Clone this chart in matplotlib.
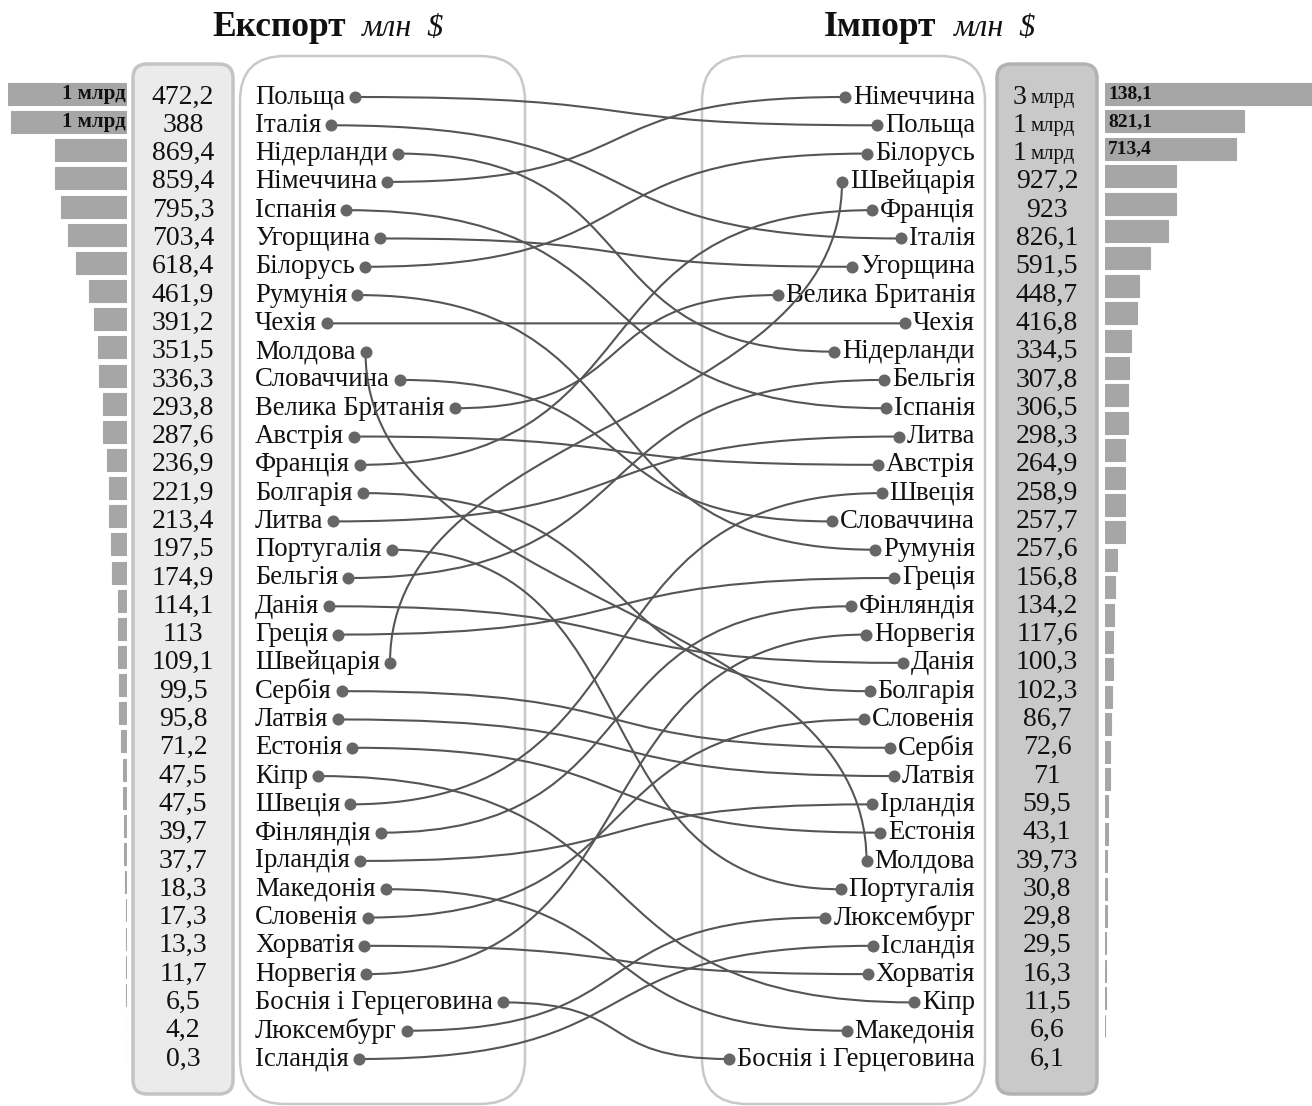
import matplotlib.pyplot as plt
from matplotlib.patches import FancyBboxPatch, PathPatch
from matplotlib.path import Path

plt.rcParams['font.family'] = ['Liberation Serif', 'DejaVu Serif']

# Експорт, млн $ (порядок як у таблиці)
export_names = ["Польща", "Італія", "Нідерланди", "Німеччина", "Іспанія", "Угорщина",
                "Білорусь", "Румунія", "Чехія", "Молдова", "Словаччина", "Велика Британія",
                "Австрія", "Франція", "Болгарія", "Литва", "Португалія", "Бельгія", "Данія",
                "Греція", "Швейцарія", "Сербія", "Латвія", "Естонія", "Кіпр", "Швеція",
                "Фінляндія", "Ірландія", "Македонія", "Словенія", "Хорватія", "Норвегія",
                "Боснія і Герцеговина", "Люксембург", "Ісландія"]
export_vals = [1472.2, 1388, 869.4, 859.4, 795.3, 703.4, 618.4, 461.9, 391.2, 351.5,
               336.3, 293.8, 287.6, 236.9, 221.9, 213.4, 197.5, 174.9, 114.1, 113,
               109.1, 99.5, 95.8, 71.2, 47.5, 47.5, 39.7, 37.7, 18.3, 17.3,
               13.3, 11.7, 6.5, 4.2, 0.3]

# Імпорт, млн $
import_names = ["Німеччина", "Польща", "Білорусь", "Швейцарія", "Франція", "Італія",
                "Угорщина", "Велика Британія", "Чехія", "Нідерланди", "Бельгія", "Іспанія",
                "Литва", "Австрія", "Швеція", "Словаччина", "Румунія", "Греція", "Фінляндія",
                "Норвегія", "Данія", "Болгарія", "Словенія", "Сербія", "Латвія", "Ірландія",
                "Естонія", "Молдова", "Португалія", "Люксембург", "Ісландія", "Хорватія",
                "Кіпр", "Македонія", "Боснія і Герцеговина"]
import_vals = [3138.1, 1821.1, 1713.4, 927.2, 923, 826.1, 591.5, 448.7, 416.8, 334.5,
               307.8, 306.5, 298.3, 264.9, 258.9, 257.7, 257.6, 156.8, 134.2, 117.6,
               100.3, 102.3, 86.7, 72.6, 71, 59.5, 43.1, 39.73, 30.8, 29.8,
               29.5, 16.3, 11.5, 6.6, 6.1]

vertical_links = ["Молдова", "Швейцарія"]

W, H = 1312, 1106
LINE = '#555555'
DOT = '#666666'
BAR = '#a6a6a6'
TXT = '#111111'
K = 0.6  # how far the bezier handles reach


def fmt(v):
    return f"{round(v, 2):g}".replace('.', ',')


def split_bln(v):
    b = int(v // 1000)
    return b, round(v - 1000 * b, 2)


fig = plt.figure(figsize=(W / 100, H / 100), dpi=100)

# bars (own axes, drawn underneath the main layer)
axe = fig.add_axes([8 / W, 0, 119 / W, 1])
axe.set_ylim(H, 0)
axe.set_xlim(1430, 0)
axe.axis('off')
n = len(export_names)
exp_bar_y = [94 + i * 28.15 for i in range(n)]
axe.barh(exp_bar_y, export_vals, height=22, color=BAR, edgecolor=BAR, linewidth=0.8)

axi = fig.add_axes([1105 / W, 0, 207 / W, 1])
axi.set_ylim(H, 0)
axi.set_xlim(0, 2706)
axi.axis('off')
imp_bar_y = [94 + i * 27.4 for i in range(len(import_vals))]
axi.barh(imp_bar_y, import_vals, height=22, color=BAR, edgecolor=BAR, linewidth=0.8)

ax = fig.add_axes([0, 0, 1, 1])
ax.set_xlim(0, W)
ax.set_ylim(H, 0)
ax.axis('off')
ax.set_zorder(5)

row_y = [97 + i * (1059 - 97) / (n - 1) for i in range(n)]

# boxes
ax.add_patch(FancyBboxPatch((133, 64), 100, 1030, boxstyle="round,pad=0,rounding_size=14",
                            fc='#ebebeb', ec='#c4c4c4', lw=2.5))
ax.add_patch(FancyBboxPatch((997, 64), 100, 1030, boxstyle="round,pad=0,rounding_size=14",
                            fc='#c9c9c9', ec='#b2b2b2', lw=2.5))
ax.add_patch(FancyBboxPatch((240, 56), 285, 1048, boxstyle="round,pad=0,rounding_size=45",
                            fc='white', ec='#c8c8c8', lw=1.8))
ax.add_patch(FancyBboxPatch((702, 56), 283, 1048, boxstyle="round,pad=0,rounding_size=45",
                            fc='white', ec='#c8c8c8', lw=1.8))

# titles
ax.text(346, 27, "Експорт", fontsize=25.5, fontweight='bold', ha='right', va='center', color=TXT)
ax.text(362, 28, "млн  $", fontsize=23, fontstyle='italic', ha='left', va='center', color=TXT)
ax.text(936, 27, "Імпорт", fontsize=25.5, fontweight='bold', ha='right', va='center', color=TXT)
ax.text(954, 28, "млн  $", fontsize=23, fontstyle='italic', ha='left', va='center', color=TXT)

NAME_FS = 19.3
VAL_FS = 20

# export values + bar labels
for i, v in enumerate(export_vals):
    if v >= 1000:
        b, rest = split_bln(v)
        ax.text(183, row_y[i], fmt(rest), fontsize=VAL_FS, ha='center', va='center', color=TXT)
        ax.text(126, exp_bar_y[i], f"{b} млрд", fontsize=15, fontweight='bold',
                ha='right', va='center', color=TXT)
    else:
        ax.text(183, row_y[i], fmt(v), fontsize=VAL_FS, ha='center', va='center', color=TXT)

# import values + bar labels
for i, v in enumerate(import_vals):
    if v >= 1000:
        b, rest = split_bln(v)
        ax.text(1026, row_y[i], str(b), fontsize=VAL_FS, ha='right', va='center', color=TXT)
        ax.text(1031, row_y[i] + 1, "млрд", fontsize=15, ha='left', va='center', color=TXT)
        ax.text(1108, imp_bar_y[i], fmt(rest), fontsize=14, fontweight='bold',
                ha='left', va='center', color=TXT)
    else:
        ax.text(1047, row_y[i], fmt(v), fontsize=VAL_FS, ha='center', va='center', color=TXT)

# names
exp_txt = [ax.text(255, row_y[i], s, fontsize=NAME_FS, ha='left', va='center', color=TXT)
           for i, s in enumerate(export_names)]
imp_txt = [ax.text(975, row_y[i], s, fontsize=NAME_FS, ha='right', va='center', color=TXT)
           for i, s in enumerate(import_names)]

renderer = fig.canvas.get_renderer()
inv = ax.transData.inverted()
exp_dot = {}
for t, s, y in zip(exp_txt, export_names, row_y):
    bb = t.get_window_extent(renderer=renderer)
    x_end = inv.transform((bb.x1, bb.y0))[0]
    exp_dot[s] = (x_end + 10, y)
imp_dot = {}
for t, s, y in zip(imp_txt, import_names, row_y):
    bb = t.get_window_extent(renderer=renderer)
    x_start = inv.transform((bb.x0, bb.y0))[0]
    imp_dot[s] = (x_start - 8, y)

# links
for s in export_names:
    x0, y0 = exp_dot[s]
    x1, y1 = imp_dot[s]
    if s in vertical_links:
        ym = (y0 + y1) / 2
        verts = [(x0, y0), (x0, ym), (x1, ym), (x1, y1)]
    else:
        dx = x1 - x0
        verts = [(x0, y0), (x0 + K * dx, y0), (x1 - K * dx, y1), (x1, y1)]
    path = Path(verts, [Path.MOVETO, Path.CURVE4, Path.CURVE4, Path.CURVE4])
    ax.add_patch(PathPatch(path, fc='none', ec=LINE, lw=1.5, zorder=3))

ax.scatter([p[0] for p in exp_dot.values()], [p[1] for p in exp_dot.values()],
           s=75, color=DOT, zorder=4, linewidths=0)
ax.scatter([p[0] for p in imp_dot.values()], [p[1] for p in imp_dot.values()],
           s=75, color=DOT, zorder=4, linewidths=0)

fig.savefig("out.png", dpi=100)
